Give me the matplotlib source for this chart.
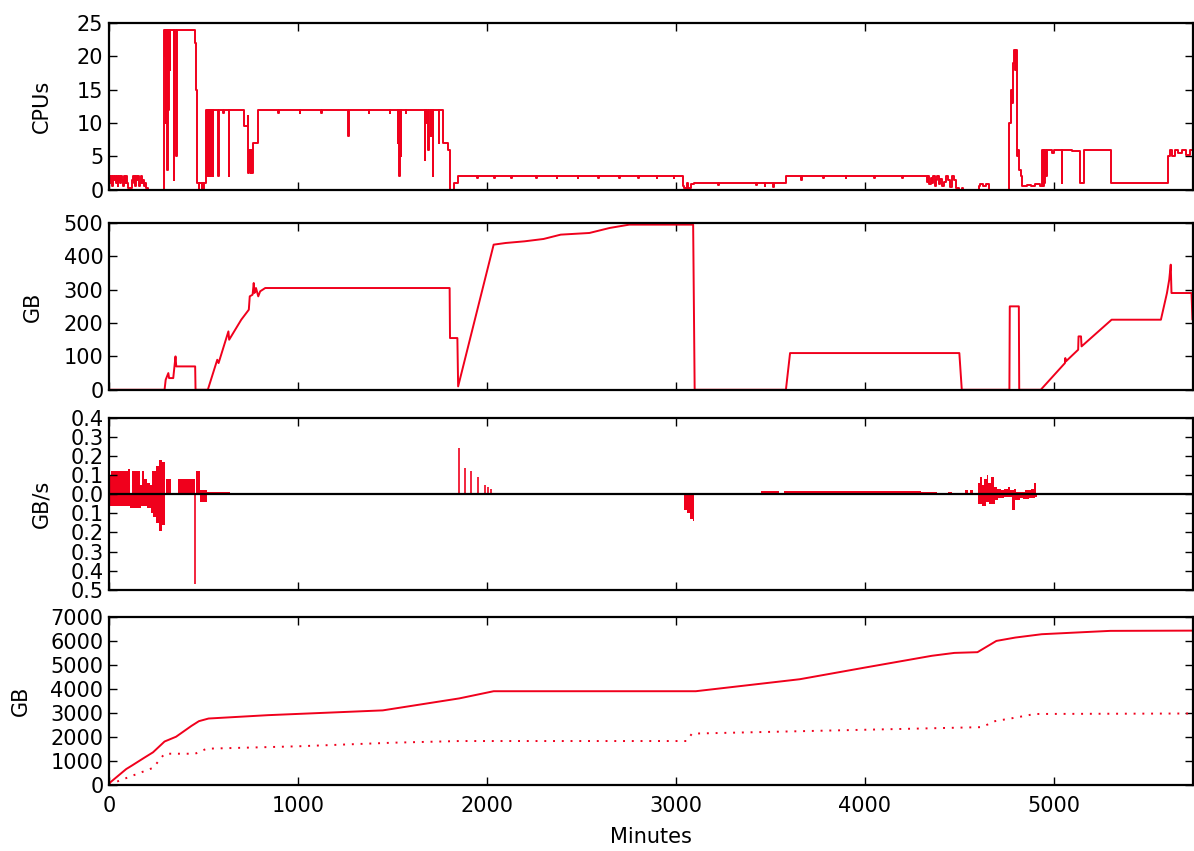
import matplotlib
matplotlib.use("Agg")
import matplotlib.pyplot as plt
from matplotlib.ticker import FuncFormatter, MultipleLocator

# ---------------- data ----------------
cpu_t = [0, 5, 10, 15, 20, 25, 30, 35, 40, 45, 50, 55, 60, 65, 70, 75, 80, 85, 90, 95,
         100, 115, 120, 125, 130, 135, 140, 145, 150, 155, 160, 165, 170, 175, 180, 185,
         190, 195, 206,
         291, 296, 299, 302, 304, 307, 310, 314, 317, 321, 323, 342, 345, 357, 360, 455, 460, 464,
         475, 478, 490, 493, 500, 503,
         516, 520, 523, 527, 530, 534, 537, 541, 544, 548, 551, 577, 580, 606, 609, 634, 637,
         713, 734, 738, 741, 744, 747, 750, 753, 757, 760, 789,
         895, 898, 1009, 1012, 1122, 1125, 1264, 1268, 1375, 1378, 1485, 1488,
         1528, 1531, 1535, 1539, 1543, 1546, 1570, 1573, 1670, 1674, 1680, 1683, 1690, 1694,
         1703, 1706, 1713, 1717, 1745, 1749, 1766, 1796, 1805, 1825, 1845,
         1950, 1953, 2040, 2043, 2130, 2133, 2260, 2263, 2370, 2373, 2480, 2483, 2590, 2593,
         2700, 2703, 2800, 2803, 2900, 2903, 2990, 2993,
         3036, 3045, 3060, 3065, 3080, 3097, 3224, 3228, 3426, 3430, 3470, 3474, 3514, 3518,
         3583, 3662, 3666, 3780, 3783, 3900, 3903, 4050, 4053, 4200, 4203,
         4330, 4337, 4343, 4350, 4356, 4362, 4370, 4377, 4385, 4392, 4400, 4410, 4420, 4430,
         4440, 4452, 4462, 4475, 4485, 4497, 4515, 4520, 4604, 4612, 4625, 4640, 4656,
         4766, 4772, 4778, 4784, 4790, 4796, 4800, 4804, 4808, 4812, 4818, 4826, 4832, 4860,
         4880, 4900, 4930, 4938, 4942, 4947, 4951, 4956, 4962, 4966, 4990, 5000, 5043, 5047,
         5100, 5141, 5159, 5304, 5608, 5615, 5625, 5640, 5660, 5680, 5700, 5720, 5740]
cpu_v = [2, 1, 2, 0.5, 2, 1.5, 2, 1, 2, 0.5, 1.5, 2, 1, 2, 1.5, 0.5, 2, 1, 2, 1,
         0.3, 0.3, 1.5, 2, 1, 2, 0.5, 2, 1.5, 2, 0.5, 1, 2, 1, 1.5, 0.5,
         1, 0.3, 0,
         24, 20, 24, 10, 24, 3, 24, 12, 24, 18, 24, 1.5, 24, 5, 24, 22, 15, 1,
         0, 1, 0, 1, 0, 1,
         12, 2, 12, 2, 12, 2, 12, 2, 12, 2, 12, 2, 12, 11.5, 12, 2, 12,
         9.5, 11, 2.5, 6, 3, 5.5, 2.5, 6, 2.5, 7, 12,
         11.5, 12, 11.5, 12, 11.5, 12, 8, 12, 11.5, 12, 11.5, 12,
         7, 12, 2, 12, 5, 12, 11.5, 12, 4.5, 12, 10, 12, 6, 12,
         8, 12, 2, 12, 7, 12, 7, 6, 0, 1, 2,
         1.8, 2, 1.8, 2, 1.8, 2, 1.8, 2, 1.8, 2, 1.8, 2, 1.8, 2,
         1.8, 2, 1.8, 2, 1.8, 2, 1.8, 2,
         0.5, 0.3, 1, 0.3, 0.8, 1, 0.7, 1, 0.7, 1, 0.5, 1, 0.4, 1,
         2, 1.5, 2, 1.8, 2, 1.8, 2, 1.8, 2, 1.8, 2,
         1.2, 2, 0.8, 1.8, 1, 2, 0.6, 1.5, 2, 0.9, 1.6, 0.5, 1.2, 2,
         1.5, 0.4, 2, 1.5, 0.2, 0, 0.3, 0, 0.5, 0.8, 0.6, 0.8, 0,
         10, 15, 13, 19, 21, 18, 21, 8, 5, 6, 3, 2, 0.5, 0.7,
         0.5, 0.8, 0.5, 6, 0.5, 6, 1, 6, 2, 6, 5.5, 6, 1, 6,
         5.8, 1, 6, 1, 5, 6, 5, 6, 5.5, 6, 5.2, 6, 5]

mem_t = [0, 294, 300, 314, 318, 340, 352, 356, 456, 458, 523, 573, 580, 632, 636, 700, 740,
         745, 760, 766, 770, 778, 790, 800, 827, 1803, 1805, 1844, 1848, 2036, 2100, 2200,
         2300, 2391, 2543, 2650, 2754, 3092, 3100, 3583, 3605, 4501, 4514, 4766, 4768, 4816,
         4818, 4932, 5060, 5062, 5065, 5130, 5132, 5145, 5148, 5307, 5568, 5600, 5612, 5620,
         5624, 5730, 5735, 5740]
mem_v = [0, 0, 30, 50, 35, 35, 100, 70, 70, 0, 0, 90, 80, 175, 150, 210, 240,
         280, 285, 320, 290, 305, 280, 295, 305, 305, 155, 155, 10, 435, 440, 445,
         452, 465, 470, 485, 495, 495, 0, 0, 110, 110, 0, 0, 250, 250,
         0, 0, 80, 95, 85, 120, 160, 160, 130, 210, 210, 290, 330, 375,
         290, 290, 210, 210]

# I/O rate: step segments (start time, value) for read (positive) and write (negative)
rate_pos_t = [0, 8, 100, 111, 122, 165, 175, 185, 200, 215, 229, 250, 265, 280, 294, 304,
              330, 365, 456, 460, 480, 517, 640, 720, 1773,
              3110, 3453, 3545, 3572, 4300, 4385, 4420, 4440, 4460, 4530, 4545, 4560, 4575,
              4598, 4610, 4620, 4630, 4645, 4655, 4670, 4685, 4700, 4720, 4740, 4760, 4770,
              4790, 4800, 4850, 4880, 4895, 4905, 5280]
rate_pos_v = [0.10, 0.12, 0.13, 0.0, 0.12, 0.05, 0.12, 0.08, 0.06, 0.05, 0.12, 0.15, 0.18,
              0.17, 0.0, 0.08, 0.0, 0.08, 0.0, 0.12, 0.02, 0.01, 0.008, 0.003, 0.0,
              0.004, 0.015, 0.004, 0.015, 0.01, 0.003, 0.0, 0.01, 0.0, 0.02, 0.0, 0.02, 0.0,
              0.06, 0.09, 0.05, 0.08, 0.1, 0.06, 0.09, 0.04, 0.03, 0.02, 0.03, 0.04, 0.02,
              0.03, 0.01, 0.02, 0.03, 0.06, 0.003, 0.0]
rate_neg_t = [0, 111, 170, 200, 220, 233, 250, 265, 280, 294, 480, 520,
              3045, 3060, 3075, 3090, 3098,
              4598, 4620, 4640, 4660, 4690, 4707, 4740, 4780, 4795, 4820, 4840, 4870, 4900, 4910]
rate_neg_v = [-0.06, -0.07, -0.06, -0.07, -0.10, -0.12, -0.15, -0.19, -0.16, 0.0, -0.04, 0.0,
              -0.08, -0.10, -0.13, -0.14, 0.0,
              -0.05, -0.06, -0.04, -0.05, -0.03, -0.02, -0.015, -0.08, -0.03, -0.02, -0.025,
              -0.02, -0.015, 0.0]
spike_t = [456, 1850, 1885, 1915, 1951, 1992, 2005, 2020]
spike_v = [-0.47, 0.24, 0.14, 0.12, 0.09, 0.05, 0.04, 0.025]

cum_t = [0, 91, 122, 182, 233, 294, 355, 436, 476, 527, 841, 1449, 1854, 2036, 3106, 3436,
         3656, 3996, 4356, 4475, 4597, 4697, 4797, 4937, 5195, 5300, 5740]
cum_v = [50, 650, 800, 1100, 1350, 1800, 2000, 2450, 2650, 2760, 2900, 3100, 3600, 3900,
         3900, 4200, 4400, 4880, 5380, 5500, 5530, 6000, 6140, 6280, 6380, 6420, 6430]
cum2_t = [0, 233, 294, 456, 517, 1000, 1500, 1854, 3056, 3086, 4620, 4690, 4800, 4900, 5740]
cum2_v = [0, 700, 1290, 1290, 1500, 1600, 1750, 1820, 1820, 2130, 2400, 2650, 2800, 2950, 2970]

x_max = 5740
RED = "#f0001c"

# ---------------- figure ----------------
plt.rcParams.update({
    "font.family": "DejaVu Sans",
    "font.size": 15,
    "xtick.direction": "in",
    "ytick.direction": "in",
    "xtick.top": True,
    "ytick.right": True,
    "xtick.major.size": 6,
    "ytick.major.size": 6,
    "xtick.major.width": 1.0,
    "ytick.major.width": 1.0,
    "axes.linewidth": 1.6,
    "xtick.major.pad": 8,
    "ytick.major.pad": 4,
})

fig = plt.figure(figsize=(11.94, 8.51), dpi=100)
left, right = 0.0913, 0.9995
boxes = [(0.777, 0.973), (0.542, 0.738), (0.307, 0.509), (0.078, 0.275)]
axes = [fig.add_axes([left, b, right - left, t - b]) for b, t in boxes]
ax1, ax2, ax3, ax4 = axes

ax1.plot(cpu_t, cpu_v, color=RED, lw=1.4, drawstyle="steps-post")
ax1.set_ylim(0, 25)
ax1.yaxis.set_major_locator(MultipleLocator(5))
ax1.set_ylabel("CPUs", labelpad=18)

ax2.plot(mem_t, mem_v, color=RED, lw=1.4)
ax2.set_ylim(0, 500)
ax2.yaxis.set_major_locator(MultipleLocator(100))
ax2.set_ylabel("GB", labelpad=15)

ax3.fill_between(rate_pos_t, 0, rate_pos_v, step="post", color=RED, lw=0)
ax3.fill_between(rate_neg_t, 0, rate_neg_v, step="post", color=RED, lw=0)
ax3.vlines(spike_t, 0, spike_v, color=RED, lw=1.2)
ax3.axhline(0, color="black", lw=1.6)
ax3.set_ylim(-0.5, 0.4)
ax3.yaxis.set_major_locator(MultipleLocator(0.1))
ax3.yaxis.set_major_formatter(FuncFormatter(lambda v, p: f"{abs(v):.1f}"))
ax3.set_ylabel("GB/s", labelpad=14)

ax4.plot(cum_t, cum_v, color=RED, lw=1.4)
ax4.plot(cum2_t, cum2_v, color=RED, lw=1.4, linestyle=(0, (1, 3.5)))
ax4.set_ylim(0, 7000)
ax4.yaxis.set_major_locator(MultipleLocator(1000))
ax4.set_ylabel("GB", labelpad=14)
ax4.set_xlabel("Minutes", labelpad=8)

for ax in axes:
    ax.set_xlim(0, x_max)
    ax.xaxis.set_major_locator(MultipleLocator(1000))
    if ax is not ax4:
        ax.tick_params(labelbottom=False)

fig.savefig("out.png", dpi=100, facecolor="white")
